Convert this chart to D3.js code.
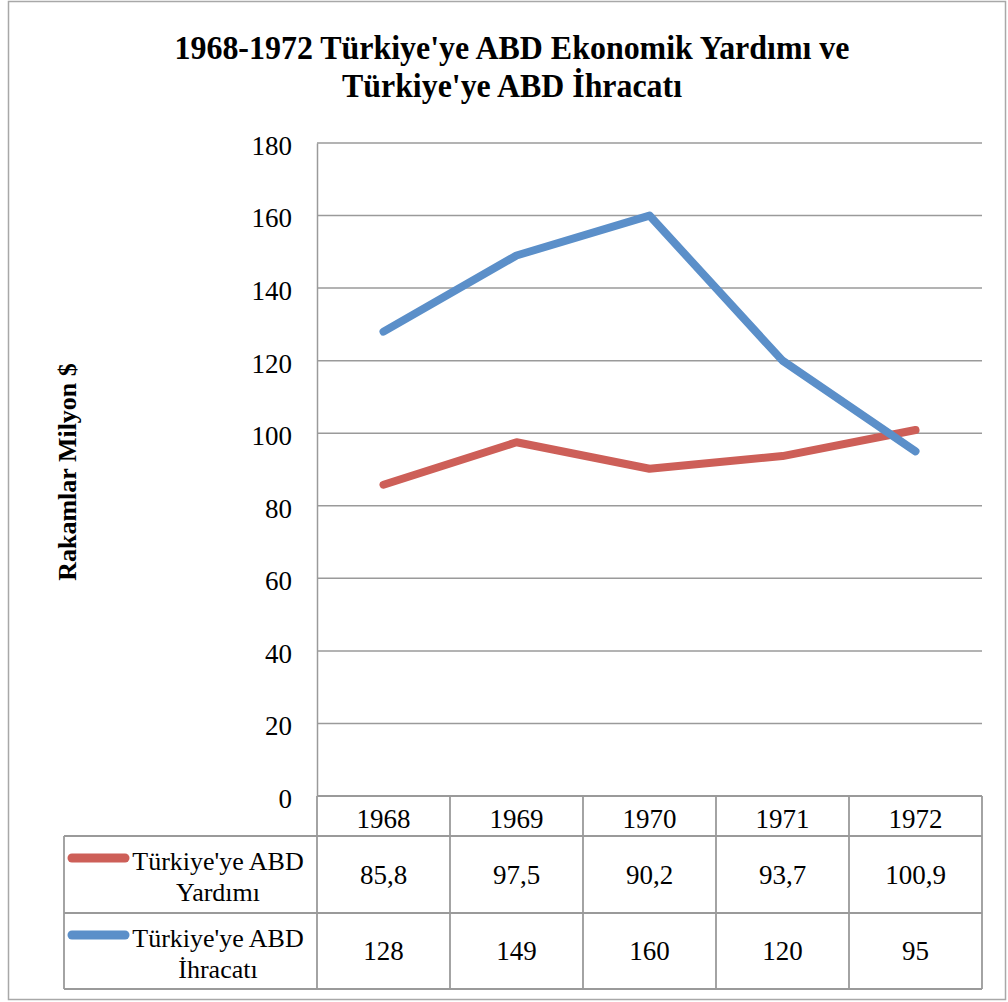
<!DOCTYPE html>
<html><head><meta charset="utf-8">
<script src="https://cdn.jsdelivr.net/npm/d3@7"></script>
<style>body{margin:0;background:#fff}svg{display:block}</style>
</head><body>
<script>
const years = ["1968","1969","1970","1971","1972"];
const yardim = [85.8, 97.5, 90.2, 93.7, 100.9];
const ihracat = [128, 149, 160, 120, 95];
const yardimLabels = ["85,8","97,5","90,2","93,7","100,9"];
const ihracatLabels = ["128","149","160","120","95"];
const yTicks = [0,20,40,60,80,100,120,140,160,180];
const seriesNames = [["Türkiye'ye ABD","Yardımı"],["Türkiye'ye ABD","İhracatı"]];
const titleLines = ["1968-1972 Türkiye'ye ABD Ekonomik Yardımı ve","Türkiye'ye ABD İhracatı"];
const yTitle = "Rakamlar Milyon $";

(function(){
const W = 1008, H = 1002;
const serif = "'Liberation Serif','Times New Roman',serif";
const gray = "#9a9a9a";
const colors = ["#cd5f58", "#5b8fc9"];
const series = [
  {vals: yardim, labels: yardimLabels, color: colors[0], name: seriesNames[0]},
  {vals: ihracat, labels: ihracatLabels, color: colors[1], name: seriesNames[1]}
];

const svg = d3.select("body").append("svg").attr("width", W).attr("height", H);
svg.append("rect").attr("x", 8.5).attr("y", 1.5).attr("width", 997).attr("height", 998)
  .attr("fill", "#fff").attr("stroke", "#a8a8a8").attr("stroke-width", 1.5);

const pLeft = 317, pRight = 982, pTop = 143, pBottom = 796;
const x = d3.scaleBand().domain(years).range([pLeft, pRight]);
const y = d3.scaleLinear().domain([0, 180]).range([pBottom, pTop]);

// title
const tw = [675, 340];
titleLines.forEach((t, i) => {
  svg.append("text").attr("x", 512).attr("y", 59 + i * 38)
    .attr("text-anchor", "middle").attr("font-family", serif).attr("font-weight", "bold")
    .attr("font-size", 33).attr("textLength", tw[i]).attr("lengthAdjust", "spacingAndGlyphs")
    .text(t);
});

// gridlines
svg.append("g").selectAll("line").data(yTicks.filter(d => d > 0)).join("line")
  .attr("x1", pLeft).attr("x2", pRight).attr("y1", d => y(d)).attr("y2", d => y(d))
  .attr("stroke", gray).attr("stroke-width", 1.5);

// y axis
const yAxis = svg.append("g").attr("transform", `translate(${pLeft},0)`)
  .call(d3.axisLeft(y).tickValues(yTicks).tickSize(0).tickPadding(25));
yAxis.select(".domain").attr("stroke", gray).attr("stroke-width", 1.5);
yAxis.selectAll("text").attr("font-family", serif).attr("font-size", 27).attr("fill", "#000")
  .attr("dy", "0.42em");

// y title
svg.append("text").attr("transform", "translate(76,472) rotate(-90)")
  .attr("text-anchor", "middle").attr("font-family", serif).attr("font-weight", "bold")
  .attr("font-size", 26).text(yTitle);

// table
const rowTops = [796, 836, 913, 989];
const tableLeft = 64;
const tg = svg.append("g").attr("stroke", gray).attr("stroke-width", 1.8).attr("fill", "none");
tg.append("line").attr("x1", pLeft).attr("x2", pRight).attr("y1", rowTops[0]).attr("y2", rowTops[0]);
[1, 2, 3].forEach(i => tg.append("line").attr("x1", tableLeft).attr("x2", pRight)
  .attr("y1", rowTops[i]).attr("y2", rowTops[i]));
tg.append("line").attr("x1", tableLeft).attr("x2", tableLeft).attr("y1", rowTops[1]).attr("y2", rowTops[3]);
tg.selectAll("line.col").data(years).join("line").attr("class", "col")
  .attr("x1", d => x(d) + x.bandwidth()).attr("x2", d => x(d) + x.bandwidth())
  .attr("y1", rowTops[0]).attr("y2", rowTops[3]);
tg.append("line").attr("x1", pLeft).attr("x2", pLeft).attr("y1", rowTops[0]).attr("y2", rowTops[3]);

// header years
svg.append("g").selectAll("text").data(years).join("text")
  .attr("x", d => x(d) + x.bandwidth() / 2).attr("y", 828)
  .attr("text-anchor", "middle").attr("font-family", serif).attr("font-size", 27).text(d => d);

// rows
series.forEach((s, i) => {
  const cy = (rowTops[i + 1] + rowTops[i + 2]) / 2;
  svg.append("g").selectAll("text").data(years).join("text")
    .attr("x", d => x(d) + x.bandwidth() / 2).attr("y", cy + 9)
    .attr("text-anchor", "middle").attr("font-family", serif).attr("font-size", 27)
    .text((d, j) => s.labels[j]);
  svg.append("line").attr("x1", 72).attr("x2", 125).attr("y1", rowTops[i + 1] + 22).attr("y2", rowTops[i + 1] + 22)
    .attr("stroke", s.color).attr("stroke-width", 9).attr("stroke-linecap", "round");
  s.name.forEach((n, k) => {
    svg.append("text").attr("x", 218).attr("y", rowTops[i + 1] + 34 + k * 31)
      .attr("text-anchor", "middle").attr("font-family", serif).attr("font-size", 26).text(n);
  });
});

// lines
const line = d3.line().x((d, j) => x(years[j]) + x.bandwidth() / 2).y(d => y(d));
series.forEach(s => {
  svg.append("path").datum(s.vals).attr("d", line).attr("fill", "none")
    .attr("stroke", s.color).attr("stroke-width", 8)
    .attr("stroke-linejoin", "round").attr("stroke-linecap", "round");
});
})();
</script>
</body></html>
